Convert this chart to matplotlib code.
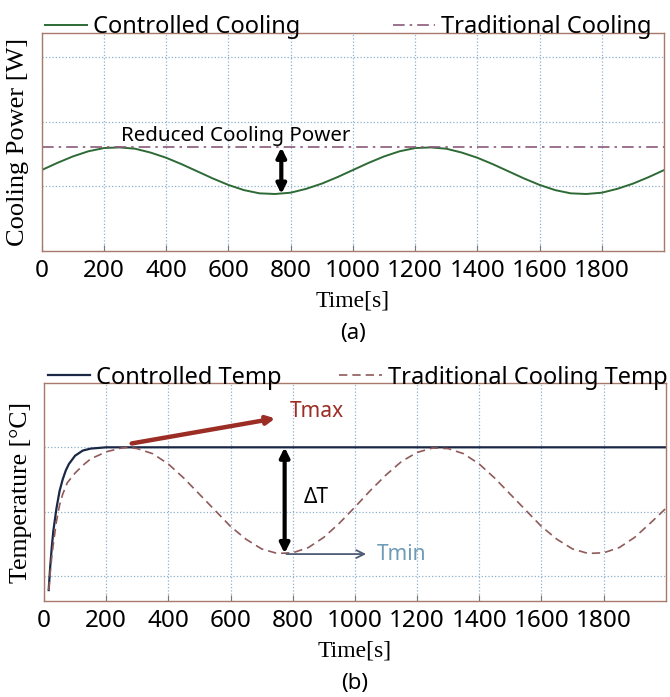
import matplotlib.pyplot as plt

# ---- data (y axes carry no numbers, arbitrary units) ----
time_a = [0, 50, 100, 150, 200, 250, 300, 350, 400, 450, 500, 550, 600, 650, 700,
          750, 800, 850, 900, 950, 1000, 1050, 1100, 1150, 1200, 1250, 1300, 1350,
          1400, 1450, 1500, 1550, 1600, 1650, 1700, 1750, 1800, 1850, 1900, 1950, 2000]
controlled_cooling = [1.25, 1.36, 1.46, 1.54, 1.59, 1.60, 1.58, 1.52, 1.44, 1.34,
                      1.23, 1.12, 1.02, 0.94, 0.89, 0.88, 0.90, 0.96, 1.04, 1.14,
                      1.25, 1.36, 1.46, 1.54, 1.59, 1.60, 1.58, 1.52, 1.44, 1.34,
                      1.23, 1.12, 1.02, 0.94, 0.89, 0.88, 0.90, 0.96, 1.04, 1.14, 1.25]
time_trad_a = [0, 2000]
traditional_cooling = [1.60, 1.60]

time_ctrl_b = [15, 20, 25, 30, 40, 50, 60, 70, 80, 100, 125, 150, 200, 400, 800,
               1200, 1600, 2000]
controlled_temp = [0.78, 1.15, 1.45, 1.70, 2.05, 2.32, 2.50, 2.64, 2.74, 2.87, 2.95,
                   2.98, 3.0, 3.0, 3.0, 3.0, 3.0, 3.0]

time_trad_b = [15, 20, 25, 30, 40, 50, 60, 75, 100, 125, 150, 200, 250, 270, 300,
               350, 400, 450, 500, 550, 600, 650, 700, 750, 800, 850, 900, 950, 1000,
               1050, 1100, 1150, 1200, 1250, 1300, 1350, 1400, 1450, 1500, 1550, 1600,
               1650, 1700, 1750, 1800, 1850, 1900, 1950, 2000]
traditional_temp = [0.78, 1.05, 1.30, 1.50, 1.85, 2.10, 2.27, 2.45, 2.60, 2.72, 2.82,
                    2.93, 2.99, 3.0, 2.98, 2.90, 2.74, 2.52, 2.27, 2.02, 1.77, 1.57,
                    1.42, 1.35, 1.36, 1.44, 1.60, 1.82, 2.07, 2.33, 2.57, 2.78, 2.92,
                    2.99, 2.98, 2.90, 2.74, 2.52, 2.27, 2.02, 1.77, 1.57, 1.42, 1.35,
                    1.36, 1.44, 1.60, 1.82, 2.05]

xticks = [0, 200, 400, 600, 800, 1000, 1200, 1400, 1600, 1800]

SANS = ['Noto Sans', 'DejaVu Sans']
SERIF = ['Liberation Serif', 'DejaVu Serif']
plt.rcParams['font.family'] = SANS

fig = plt.figure(figsize=(6.7, 6.97), dpi=100)
ax1 = fig.add_axes([0.0622, 0.640, 0.929, 0.3128])
ax2 = fig.add_axes([0.0657, 0.1377, 0.928, 0.3128])


def style_axes(ax, yticks, ylim, ylabel, ysize):
    ax.set_xlim(0, 2000)
    ax.set_ylim(*ylim)
    ax.set_xticks(xticks)
    ax.set_yticks(yticks)
    ax.set_yticklabels([])
    ax.tick_params(direction='in', length=4, color='#777777', labelsize=17.5, pad=6)
    ax.tick_params(axis='y', length=0)
    for s in ax.spines.values():
        s.set_color('#a87a6c')
        s.set_linewidth(1.0)
    ax.grid(True, linestyle=':', color='#8fb0cc', lw=0.9)
    ax.set_axisbelow(True)
    ax.set_ylabel(ylabel, family=SERIF, fontsize=ysize, labelpad=3)
    ax.set_xlabel('Time[s]', family=SERIF, fontsize=17, labelpad=5)


# ---- (a) cooling power ----
style_axes(ax1, [1, 2, 3], (0, 3.37), 'Cooling Power [W]', 19)
ax1.plot(time_a, controlled_cooling, color='#2d6a35', lw=1.4, label='Controlled Cooling')
ax1.plot(time_trad_a, traditional_cooling, color='#8a5a78', lw=1.2,
         dashes=(7, 3, 1.5, 3), label='Traditional Cooling')
ax1.legend(ncol=2, loc='lower left', bbox_to_anchor=(0.005, 0.97), frameon=False,
           fontsize=17, handlelength=1.8, handletextpad=0.25, columnspacing=3.9,
           borderaxespad=0, borderpad=0)

i_min = controlled_cooling.index(min(controlled_cooling[10:20]))
ax1.annotate('', xy=(time_a[i_min] + 20, traditional_cooling[0]),
             xytext=(time_a[i_min] + 20, min(controlled_cooling)),
             arrowprops=dict(arrowstyle='<|-|>', color='black', lw=3, mutation_scale=14,
                             shrinkA=0, shrinkB=0))
ax1.text(624, 1.78, 'Reduced Cooling Power', fontsize=14.8, ha='center', va='center')

# ---- (b) temperature ----
style_axes(ax2, [1, 2, 3], (0.61, 4.0), 'Temperature [°C]', 18.5)
ax2.plot(time_ctrl_b, controlled_temp, color='#1a2745', lw=1.6, label='Controlled Temp')
ax2.plot(time_trad_b, traditional_temp, color='#8f5a5a', lw=1.2, dashes=(5, 3),
         label='Traditional Cooling Temp')
ax2.legend(ncol=2, loc='lower left', bbox_to_anchor=(0.006, 0.97), frameon=False,
           fontsize=17, handlelength=1.8, handletextpad=0.25, columnspacing=2.45,
           borderaxespad=0, borderpad=0)

t_max = max(traditional_temp)
t_min = min(traditional_temp[14:])
ax2.annotate('', xy=(774, t_max), xytext=(774, t_min),
             arrowprops=dict(arrowstyle='<|-|>', color='black', lw=3, mutation_scale=14,
                             shrinkA=0, shrinkB=0))
ax2.text(876, 2.22, 'ΔT', fontsize=15, ha='center', va='center')
ax2.annotate('', xy=(744, 3.45), xytext=(282, t_max + 0.06),
             arrowprops=dict(arrowstyle='-|>', color='#9b2d25', lw=3.2, mutation_scale=12,
                             shrinkA=0, shrinkB=0))
ax2.text(877, 3.55, 'Tmax', fontsize=15, color='#9b2d25', ha='center', va='center')
ax2.annotate('', xy=(1036, t_min - 0.01), xytext=(780, t_min - 0.01),
             arrowprops=dict(arrowstyle='->', color='#4d5b75', lw=1.3, mutation_scale=14,
                             shrinkA=0, shrinkB=0))
ax2.text(1151, t_min - 0.01, 'Tmin', fontsize=15, color='#6d9bb8', ha='center', va='center')

fig.text(353 / 670, 1 - 333 / 697, '(a)', fontsize=16, ha='center', va='center')
fig.text(355 / 670, 1 - 684 / 697, '(b)', fontsize=16, ha='center', va='center')

fig.savefig('out.png', dpi=100)
